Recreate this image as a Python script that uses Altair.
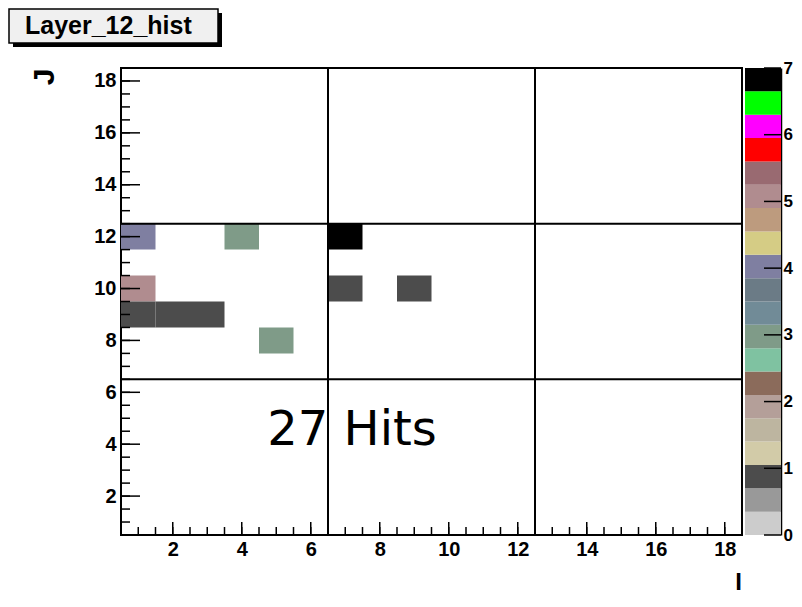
import altair as alt
import pandas as pd

# ---- data ----
I_BINS = [1, 4, 7, 1, 7, 9, 1, 2, 3, 5]
J_BINS = [12, 12, 12, 10, 10, 10, 9, 9, 9, 8]
COUNTS = [4, 3, 7, 5, 1, 1, 1, 1, 1, 3]

TITLE = "Layer_12_hist"
X_TITLE = "I"
Y_TITLE = "J"

AXIS_RANGE = [0.5, 18.5]
AXIS_LABELS = [2, 4, 6, 8, 10, 12, 14, 16, 18]
MINOR_TICKS = [0.5 * k for k in range(1, 38)]
GRID_LINES = [6.5, 12.5]

Z_RANGE = [0, 7]
Z_LABELS = [0, 1, 2, 3, 4, 5, 6, 7]
PALETTE = [
    "#cccccc", "#999999", "#4c4c4c", "#d2cba8", "#bdb5a0",
    "#b49f99", "#8b6b5b", "#7fc2a1", "#7f9b88", "#718b97",
    "#6b7b86", "#7f7fa1", "#d5cc85", "#bd9b7e", "#b08c8f",
    "#996a71", "#ff0000", "#ff00ff", "#00ff00", "#000000",
]

W, H = 621, 467
FONT = "Liberation Sans"

hist = pd.DataFrame({"I": I_BINS, "J": J_BINS, "n": COUNTS})
xs = alt.Scale(domain=AXIS_RANGE, nice=False, zero=False)
ys = alt.Scale(domain=AXIS_RANGE, nice=False, zero=False)
cs = alt.Scale(type="quantize", domain=Z_RANGE, range=PALETTE)

x_axis = alt.Axis(values=AXIS_LABELS, format="d", ticks=False, domain=False, grid=False,
                  labelFont=FONT, labelFontWeight="bold", labelFontSize=20,
                  labelColor="black", labelPadding=4, labelFlush=False,
                  title=X_TITLE, titleFont=FONT, titleFontWeight="bold",
                  titleFontSize=24, titleColor="black", titleX=617, titleY=54,
                  titleAlign="center", titleBaseline="alphabetic")
y_axis = alt.Axis(values=AXIS_LABELS, format="d", ticks=False, domain=False, grid=False,
                  labelFont=FONT, labelFontWeight="bold", labelFontSize=20,
                  labelColor="black", labelPadding=5, labelFlush=False,
                  title=Y_TITLE, titleFont=FONT, titleFontWeight="bold",
                  titleFontSize=30, titleColor="black", titleAngle=270,
                  titleX=-68, titleY=0, titleAlign="right",
                  titleBaseline="alphabetic")

heat = alt.Chart(hist).transform_calculate(
    x0="datum.I - 0.5", x1="datum.I + 0.5",
    y0="datum.J - 0.5", y1="datum.J + 0.5",
).mark_rect().encode(
    x=alt.X("x0:Q", scale=xs, axis=x_axis),
    x2="x1:Q",
    y=alt.Y("y0:Q", scale=ys, axis=y_axis),
    y2="y1:Q",
    color=alt.Color("n:Q", scale=cs, legend=None),
)

grid_df = pd.DataFrame({"v": GRID_LINES})
grid_x = alt.Chart(grid_df).mark_rule(color="black", strokeWidth=2).encode(
    x=alt.X("v:Q", scale=xs))
grid_y = alt.Chart(grid_df).mark_rule(color="black", strokeWidth=2).encode(
    y=alt.Y("v:Q", scale=ys))

major_df = pd.DataFrame({"v": AXIS_LABELS})
minor_df = pd.DataFrame({"v": MINOR_TICKS})
tick_style = dict(color="black", strokeWidth=1.5)
xt_major = alt.Chart(major_df).mark_rule(**tick_style).encode(
    x=alt.X("v:Q", scale=xs), y=alt.value(H), y2=alt.value(H - 13))
xt_minor = alt.Chart(minor_df).mark_rule(**tick_style).encode(
    x=alt.X("v:Q", scale=xs), y=alt.value(H), y2=alt.value(H - 8))
yt_major = alt.Chart(major_df).mark_rule(**tick_style).encode(
    y=alt.Y("v:Q", scale=ys), x=alt.value(0), x2=alt.value(19))
yt_minor = alt.Chart(minor_df).mark_rule(**tick_style).encode(
    y=alt.Y("v:Q", scale=ys), x=alt.value(0), x2=alt.value(9))

hits = alt.Chart(pd.DataFrame({"label": [f"{sum(COUNTS)} Hits"]})).mark_text(
    font="DejaVu Sans", fontSize=48, align="center", baseline="alphabetic",
    color="black").encode(x=alt.value(231), y=alt.value(377), text="label:N")

tdf = pd.DataFrame({"t": [TITLE]})
shadow = alt.Chart(tdf).mark_rect(color="black").encode(
    x=alt.value(-108), x2=alt.value(101), y=alt.value(-55), y2=alt.value(-21))
box = alt.Chart(tdf).mark_rect(fill="#f0f0f0", stroke="black", strokeWidth=1.5).encode(
    x=alt.value(-112), x2=alt.value(97), y=alt.value(-59), y2=alt.value(-25))
title_txt = alt.Chart(tdf).mark_text(
    font=FONT, fontWeight="bold", fontSize=25, align="left",
    baseline="alphabetic", color="black").encode(
    x=alt.value(-96), y=alt.value(-34), text="t:N")

main = alt.layer(heat, grid_x, grid_y, xt_major, xt_minor, yt_major, yt_minor,
                 hits, shadow, box, title_txt)

# ---- colour bar ----
n = len(PALETTE)
step = (Z_RANGE[1] - Z_RANGE[0]) / n
bands = pd.DataFrame({
    "lo": [Z_RANGE[0] + k * step for k in range(n)],
    "hi": [Z_RANGE[0] + (k + 1) * step for k in range(n)],
    "mid": [Z_RANGE[0] + (k + 0.5) * step for k in range(n)],
})
zs = alt.Scale(domain=Z_RANGE, nice=False, zero=False)
z_axis = alt.Axis(orient="right", offset=39, values=Z_LABELS, format="d", ticks=False,
                  domain=True, domainColor="black", domainWidth=1.5,
                  grid=False, labelFont=FONT, labelFontWeight="bold",
                  labelFontSize=17, labelColor="black", labelPadding=2,
                  labelFlush=False, title=None)
cbar = alt.Chart(bands).mark_rect().encode(
    y=alt.Y("lo:Q", scale=zs, axis=z_axis), y2="hi:Q",
    x=alt.value(624), x2=alt.value(660),
    color=alt.Color("mid:Q", scale=cs, legend=None))
cbar_ticks = alt.Chart(pd.DataFrame({"v": Z_LABELS})).mark_rule(**tick_style).encode(
    y=alt.Y("v:Q", scale=zs), x=alt.value(643), x2=alt.value(660))
cbar_layer = alt.layer(cbar, cbar_ticks)

chart = alt.layer(main, cbar_layer).resolve_scale(y="independent").properties(
    width=W, height=H,
    autosize=alt.AutoSizeParams(type="none"),
    padding={"left": 113, "top": 60, "right": 52, "bottom": 62},
    background="white",
).configure_view(stroke="black", strokeWidth=2)

chart.save("out.html", embed_options={"renderer": "svg", "actions": False})
